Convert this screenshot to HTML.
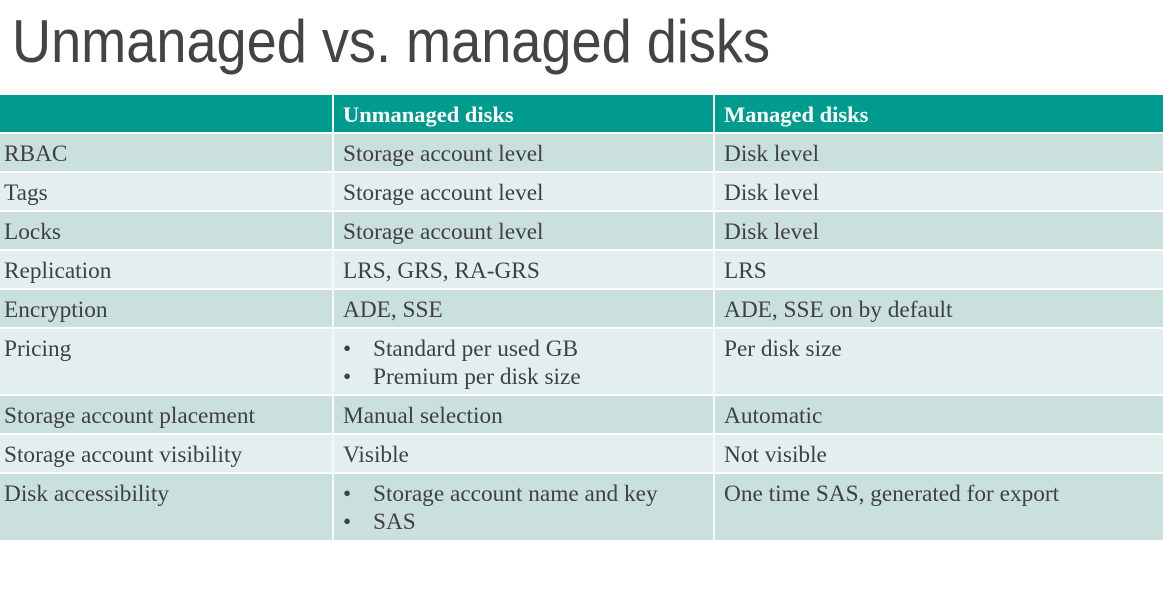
<!DOCTYPE html>
<html><head><meta charset="utf-8"><style>
body{margin:0;width:1163px;height:613px;background:#fff;position:relative;overflow:hidden;font-family:"Liberation Serif",serif;}
.c{position:absolute;font-size:23.3px;color:#404040;box-sizing:border-box;padding-left:4px;line-height:28px;white-space:nowrap;}
.h{color:#fff;font-weight:bold;font-size:22.5px;}
.r{position:absolute;left:0;width:1163px;}
ul{margin:0;padding:0;list-style:none}
li{position:relative;padding-left:30px}
li:before{content:"•";position:absolute;left:0}
</style></head><body>
<svg width="1163" height="90" style="position:absolute;left:0;top:0">
<text x="12" y="62" font-family="Liberation Sans, sans-serif" font-size="60" fill="#444" textLength="758" lengthAdjust="spacingAndGlyphs">Unmanaged vs. managed disks</text>
</svg>
<div class="r" style="top:95px;height:37px;background:#009b8f"></div>
<div class="r" style="top:134px;height:37px;background:#c9e0dd"></div>
<div class="r" style="top:173px;height:37px;background:#e3efee"></div>
<div class="r" style="top:212px;height:37px;background:#c9e0dd"></div>
<div class="r" style="top:251px;height:37px;background:#e3efee"></div>
<div class="r" style="top:290px;height:37px;background:#c9e0dd"></div>
<div class="r" style="top:329px;height:65px;background:#e3efee"></div>
<div class="r" style="top:396px;height:37px;background:#c9e0dd"></div>
<div class="r" style="top:435px;height:37px;background:#e3efee"></div>
<div class="r" style="top:474px;height:66px;background:#c9e0dd"></div>
<div style="position:absolute;left:332px;top:95px;width:2px;height:445px;background:#f4f9f8"></div>
<div style="position:absolute;left:713px;top:95px;width:2px;height:445px;background:#f4f9f8"></div>

<div class="c h" style="left:339px;top:101px">Unmanaged disks</div>
<div class="c h" style="left:720px;top:101px">Managed disks</div>

<div class="c" style="left:0;top:140px">RBAC</div>
<div class="c" style="left:339px;top:140px">Storage account level</div>
<div class="c" style="left:720px;top:140px">Disk level</div>

<div class="c" style="left:0;top:179px">Tags</div>
<div class="c" style="left:339px;top:179px">Storage account level</div>
<div class="c" style="left:720px;top:179px">Disk level</div>

<div class="c" style="left:0;top:218px">Locks</div>
<div class="c" style="left:339px;top:218px">Storage account level</div>
<div class="c" style="left:720px;top:218px">Disk level</div>

<div class="c" style="left:0;top:257px">Replication</div>
<div class="c" style="left:339px;top:257px">LRS, GRS, RA-GRS</div>
<div class="c" style="left:720px;top:257px">LRS</div>

<div class="c" style="left:0;top:296px">Encryption</div>
<div class="c" style="left:339px;top:296px">ADE, SSE</div>
<div class="c" style="left:720px;top:296px">ADE, SSE on by default</div>

<div class="c" style="left:0;top:335px">Pricing</div>
<div class="c" style="left:339px;top:335px"><ul><li>Standard per used GB</li><li>Premium per disk size</li></ul></div>
<div class="c" style="left:720px;top:335px">Per disk size</div>

<div class="c" style="left:0;top:402px">Storage account placement</div>
<div class="c" style="left:339px;top:402px">Manual selection</div>
<div class="c" style="left:720px;top:402px">Automatic</div>

<div class="c" style="left:0;top:441px">Storage account visibility</div>
<div class="c" style="left:339px;top:441px">Visible</div>
<div class="c" style="left:720px;top:441px">Not visible</div>

<div class="c" style="left:0;top:480px">Disk accessibility</div>
<div class="c" style="left:339px;top:480px"><ul><li>Storage account name and key</li><li>SAS</li></ul></div>
<div class="c" style="left:720px;top:480px">One time SAS, generated for export</div>
</body></html>
